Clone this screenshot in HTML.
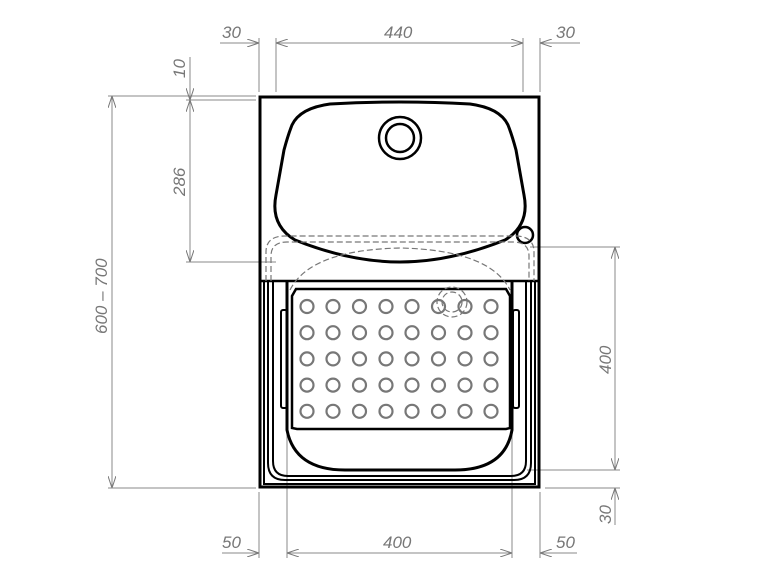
<!DOCTYPE html>
<html><head><meta charset="utf-8"><style>
html,body{margin:0;padding:0;background:#fff;width:768px;height:576px;overflow:hidden}
svg{display:block}
text{font-family:"Liberation Sans","DejaVu Sans",sans-serif;font-style:italic;font-size:17px;fill:#777}
</style></head><body>
<svg width="768" height="576" viewBox="0 0 768 576" xmlns="http://www.w3.org/2000/svg">
<defs>
<marker id="a" viewBox="0 0 12 8" refX="12" refY="4" markerWidth="12" markerHeight="8" orient="auto-start-reverse" markerUnits="userSpaceOnUse">
<path d="M0,0 L12,4 L0,8" fill="none" stroke="#777" stroke-width="1"/></marker>
</defs>
<g stroke="#888" stroke-width="1" fill="none">
<line x1="259" y1="38" x2="259" y2="92"/><line x1="276" y1="38" x2="276" y2="92"/>
<line x1="523" y1="38" x2="523" y2="92"/><line x1="540" y1="38" x2="540" y2="92"/>
<line x1="220" y1="43" x2="259" y2="43" marker-end="url(#a)"/>
<line x1="276" y1="43" x2="523" y2="43" marker-start="url(#a)" marker-end="url(#a)"/>
<line x1="580" y1="43" x2="540" y2="43" marker-end="url(#a)"/>
<line x1="108" y1="96" x2="256" y2="96"/>
<line x1="186" y1="100" x2="256" y2="100"/>
<line x1="186" y1="262" x2="276" y2="262"/>
<line x1="112" y1="96" x2="112" y2="488" marker-start="url(#a)" marker-end="url(#a)"/>
<line x1="108" y1="488" x2="256" y2="488"/>
<line x1="190" y1="57" x2="190" y2="100" marker-end="url(#a)"/>
<line x1="190" y1="100" x2="190" y2="262" marker-start="url(#a)" marker-end="url(#a)"/>
<line x1="530" y1="247" x2="620" y2="247"/>
<line x1="527" y1="470" x2="620" y2="470"/>
<line x1="545" y1="488" x2="620" y2="488"/>
<line x1="615" y1="247" x2="615" y2="470" marker-start="url(#a)" marker-end="url(#a)"/>
<line x1="615" y1="525" x2="615" y2="488" marker-end="url(#a)"/>
<line x1="259" y1="492" x2="259" y2="558"/><line x1="287" y1="432" x2="287" y2="558"/>
<line x1="512" y1="432" x2="512" y2="558"/><line x1="540" y1="492" x2="540" y2="558"/>
<line x1="222" y1="553" x2="259" y2="553" marker-end="url(#a)"/>
<line x1="287" y1="553" x2="512" y2="553" marker-start="url(#a)" marker-end="url(#a)"/>
<line x1="577" y1="553" x2="540" y2="553" marker-end="url(#a)"/>
</g>
<text x="222" y="38">30</text>
<text x="384" y="38">440</text>
<text x="556" y="38">30</text>
<text x="222" y="548">50</text>
<text x="383" y="548">400</text>
<text x="556" y="548">50</text>
<text transform="translate(185,78) rotate(-90)">10</text>
<text transform="translate(185,196) rotate(-90)">286</text>
<text transform="translate(107,334) rotate(-90)">600 – 700</text>
<text transform="translate(611,374) rotate(-90)">400</text>
<text transform="translate(611,524) rotate(-90)">30</text>

<g fill="none" stroke="#000">
<rect x="260" y="97" width="279" height="390" stroke-width="3"/>
<line x1="260" y1="281" x2="539" y2="281" stroke-width="2.5"/>
<line x1="264" y1="281" x2="264" y2="485" stroke-width="2"/>
<line x1="535" y1="281" x2="535" y2="485" stroke-width="2"/>
<line x1="264" y1="484" x2="535" y2="484" stroke-width="2"/>
<path d="M268,281 V463 Q268,480 285,480 H514 Q531,480 531,463 V281" stroke-width="2"/>
<path d="M273,281 V461 Q273,476 288,476 H511 Q526,476 526,461 V281" stroke-width="2"/>
<path d="M330,104 Q400,100 470,104 Q500,108 508,125 Q512,135 516,150 L524,195 Q530,225 505,240 Q450,262 400,262 Q350,262 295,240 Q270,225 276,195 L284,150 Q288,135 292,125 Q300,108 330,104 Z" stroke-width="3"/>
<circle cx="400" cy="138" r="21" stroke-width="2.5"/>
<circle cx="400" cy="138" r="14" stroke-width="2.5"/>
<circle cx="525" cy="235" r="8" stroke-width="2.5"/>
<path d="M287,282 V430 Q295,470 345,470 H455 Q505,470 512,430 V282" stroke-width="3"/>
<path d="M296,289 H506 L510,296 V428 L506,429 H297 L292,428 V296 Z" stroke-width="2.5"/>
<rect x="281" y="310" width="6" height="98" rx="2" stroke-width="2"/>
<rect x="513" y="310" width="6" height="98" rx="2" stroke-width="2"/>
</g>
<g fill="none" stroke="#777" stroke-width="1.2" stroke-dasharray="6,3">
<path d="M266,281 V252 Q266,236 285,236 H515 Q534,236 534,252 V281"/>
<path d="M271,281 V256 Q271,242 287,242 H513 Q529,242 529,256 V281"/>
<path d="M290,290 Q310,250 400,248 Q490,250 510,290"/>
<circle cx="452" cy="302" r="15"/>
<circle cx="452" cy="302" r="10"/>
</g>
<g fill="none" stroke="#777" stroke-width="2.2">
<g id="r">
<circle cx="307" cy="306.5" r="6.5"/><circle cx="333" cy="306.5" r="6.5"/><circle cx="359.5" cy="306.5" r="6.5"/><circle cx="386" cy="306.5" r="6.5"/><circle cx="412" cy="306.5" r="6.5"/><circle cx="438.5" cy="306.5" r="6.5"/><circle cx="465" cy="306.5" r="6.5"/><circle cx="491" cy="306.5" r="6.5"/>
</g>
<use href="#r" y="26.2"/><use href="#r" y="52.4"/><use href="#r" y="78.6"/><use href="#r" y="104.8"/>
</g>
</svg>
</body></html>
